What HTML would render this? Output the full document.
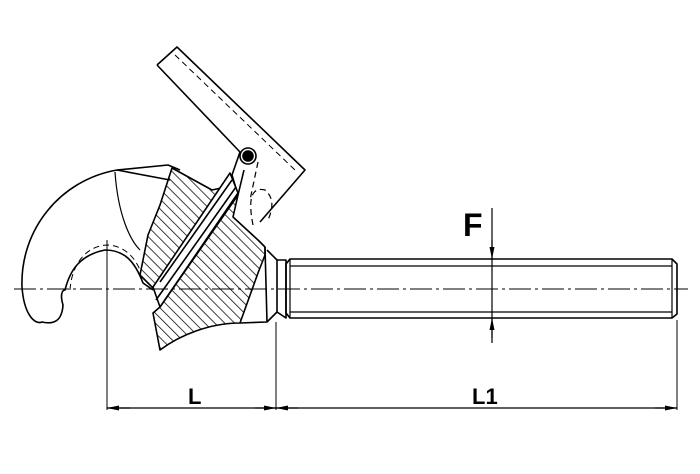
<!DOCTYPE html>
<html><head><meta charset="utf-8"><style>
html,body{margin:0;padding:0;background:#fff;}
svg{display:block}
text{font-family:"Liberation Sans",sans-serif;font-weight:bold;fill:#000}
</style></head><body>
<svg width="700" height="474" viewBox="0 0 700 474" xmlns="http://www.w3.org/2000/svg">
<defs>
<pattern id="h" patternUnits="userSpaceOnUse" width="7" height="7" patternTransform="rotate(-45)">
<line x1="0" y1="0" x2="0" y2="7" stroke="#000" stroke-width="1.5"/>
</pattern>
<marker id="a" markerWidth="12" markerHeight="6" refX="12" refY="3" orient="auto" markerUnits="userSpaceOnUse">
<path d="M0,0.5 L12,3 L0,5.5 Z" fill="#000"/></marker>
</defs>
<g fill="none" stroke="#000" stroke-width="1.6" stroke-linejoin="round">
<!-- handle -->
<path d="M157,65 L177,47 L305,170 L260,222" />
<path d="M157,65 L240,152" />
<path d="M175,55 L295,170" stroke-dasharray="6,4" stroke-width="1"/>
<circle cx="248" cy="156" r="5" fill="#000"/>
<circle cx="248" cy="156" r="8"/>
<path d="M240,152 L232,175 L238,195 L244,170" />
<path d="M258,162 L250,200 M253,225 Q245,185 265,190 Q277,200 268,220" stroke-dasharray="6,4" stroke-width="1.2"/>
<!-- hook -->
<path d="M117,170 C60,180 20,230 22,287 C24,315 35,325 42,322 C55,325 62,320 63,305 C60,295 62,290 65,290 C70,270 80,255 105,250 C125,250 135,262 143,283 L153,290" />
<path d="M70,290 C72,260 90,245 108,245 C125,246 135,258 140,270" stroke-dasharray="6,4" stroke-width="1"/>
<path d="M117,170 L168,165 L180,170" />
<path d="M117,170 L170,180" />
<path d="M115,172 C118,215 130,240 140,250" stroke-width="1.2"/>
<!-- upper hatched block -->
<path d="M172,168 L212,190 L235,185 L155,290 L140,275 L148,235 L160,205 Z" fill="url(#h)"/>
<!-- lower hatched block -->
<path d="M238,195 L233,217 L258,240 L265,247 L265,255 L258,273 L240,323 C210,323 180,335 160,350 L153,313 L160,307 Z" fill="url(#h)"/>
<!-- middle strip -->
<path d="M153,287 L230,173 L238,193 L160,307 Z" fill="#fff"/>
<path d="M160,282 L232,180 M156,300 L236,187"/>
<!-- body right -->
<path d="M265,247 L267,322 L240,323"/>
<path d="M267,250 L277,260 L277,312 L267,322"/>
<path d="M277,260 L286,260 L286,318 L277,312"/>
<!-- rod -->
<path d="M290,259 L672,259 L677,264 L677,314 L672,318 L290,318 L286,313 L286,264 Z"/>
<path d="M290,266 L672,266 M290,312 L672,312 M290,259 L290,318 M672,259 L672,318" stroke-width="1.2"/>
</g>
<!-- center lines -->
<g stroke="#000" stroke-width="1" fill="none">
<path d="M14,289 L688,289" stroke-dasharray="22,4,3,4"/>
<path d="M107,240 L107,410"/>
<path d="M276,322 L276,410"/>
<path d="M677,320 L677,410"/>
<path d="M492,208 L492,343" stroke-width="1.2"/>
<path d="M107,408 L677,408" stroke-width="1.3"/>
</g>
<g stroke="#000" stroke-width="1.2">
<line x1="492" y1="240" x2="492" y2="259" marker-end="url(#a)"/>
<line x1="492" y1="338" x2="492" y2="318" marker-end="url(#a)"/>
<line x1="130" y1="408" x2="107" y2="408" marker-end="url(#a)"/>
<line x1="255" y1="408" x2="276" y2="408" marker-end="url(#a)"/>
<line x1="298" y1="408" x2="276" y2="408" marker-end="url(#a)"/>
<line x1="655" y1="408" x2="677" y2="408" marker-end="url(#a)"/>
</g>
<text x="463" y="236" font-size="32">F</text>
<text x="188" y="404" font-size="22">L</text>
<text x="472" y="404" font-size="22">L1</text>
</svg>
</body></html>
